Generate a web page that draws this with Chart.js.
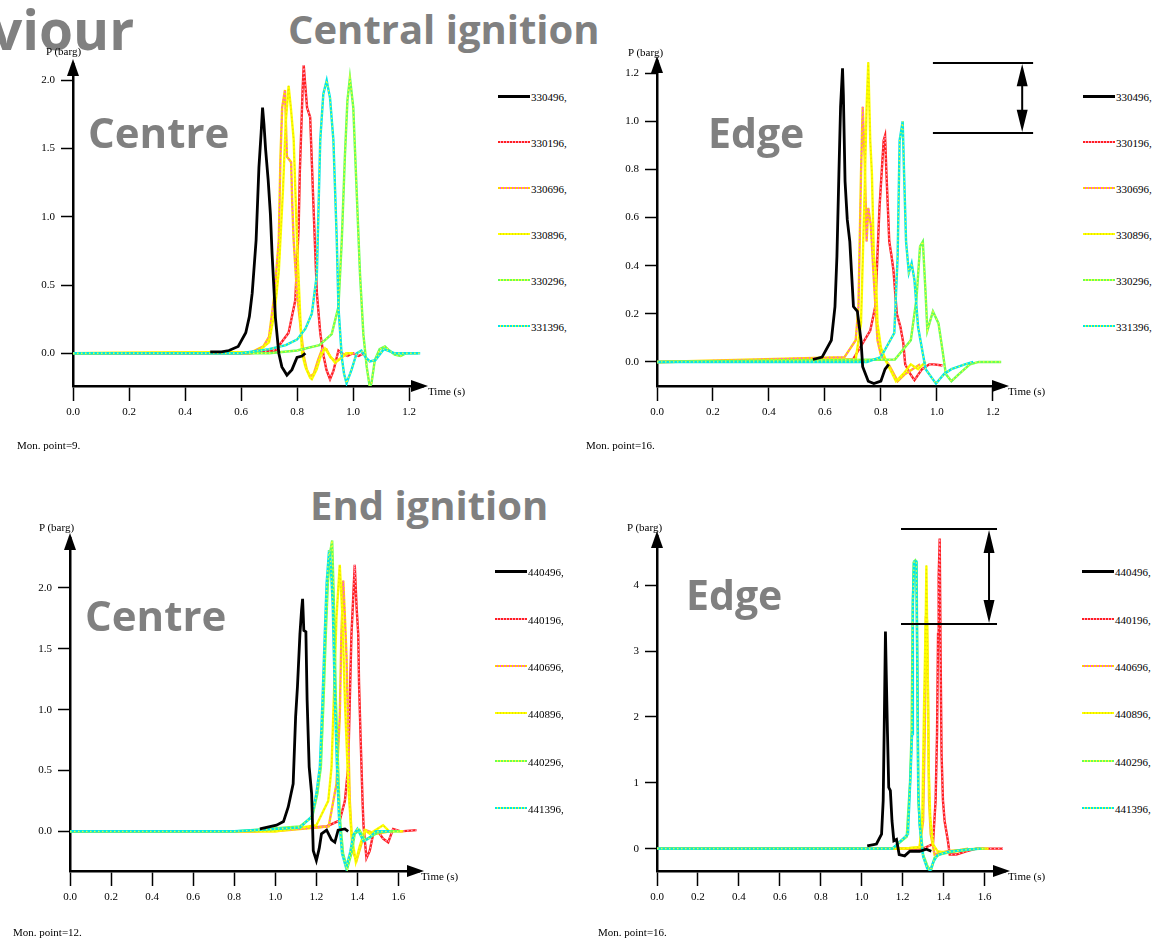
<!DOCTYPE html>
<html>
<head>
<meta charset="utf-8">
<script src="https://cdn.jsdelivr.net/npm/chart.js@4.4.1/dist/chart.umd.min.js"></script>
<style>
  html, body { margin: 0; padding: 0; background: #fff; }
  #page { position: relative; width: 1157px; height: 939px; overflow: hidden; background: #fff; }
  .big { position: absolute; font-family: 'Open Sans', sans-serif; font-weight: 700; color: #808080; line-height: 1; white-space: nowrap; }
  .small { position: absolute; font-family: 'Liberation Serif', serif; font-size: 11px; line-height: 12px; color: #000; white-space: nowrap; }
  .panel { position: absolute; }
  .legend { position: absolute; font-family: 'Liberation Serif', serif; font-size: 11px; color: #000; }
  .legend .row { position: absolute; left: 0; height: 12px; display: flex; align-items: center; white-space: nowrap; }
  .legend .swatch { width: 32px; height: 2px; margin-right: 1px; margin-bottom: 2px; }
</style>
</head>
<body>
<div id="page">
  <div class="big" style="left:-9px; top:1px; font-size:55px;">viour</div>
  <div class="big" style="left:288px; top:9px; font-size:40px;">Central ignition</div>
  <div class="big" style="left:310px; top:485px; font-size:40px;">End ignition</div>

  <canvas id="cc" class="panel" width="480" height="420" style="left:0px; top:40px;"></canvas>
  <canvas id="ce" class="panel" width="480" height="420" style="left:580px; top:40px;"></canvas>
  <canvas id="ec" class="panel" width="480" height="439" style="left:0px; top:500px;"></canvas>
  <canvas id="ee" class="panel" width="480" height="439" style="left:580px; top:500px;"></canvas>

  <div class="big" style="left:88px; top:111px; font-size:42px;">Centre</div>
  <div class="big" style="left:708px; top:112px; font-size:41px;">Edge</div>
  <div class="big" style="left:85px; top:594px; font-size:42px;">Centre</div>
  <div class="big" style="left:686px; top:574px; font-size:41px;">Edge</div>

  <div class="small" style="left:46px; top:45px;">P (barg)</div>
  <div class="small" style="left:628px; top:46px;">P (barg)</div>
  <div class="small" style="left:39px; top:521px;">P (barg)</div>
  <div class="small" style="left:627px; top:521px;">P (barg)</div>

  <div class="small" style="left:428px; top:385px;">Time (s)</div>
  <div class="small" style="left:1008px; top:385px;">Time (s)</div>
  <div class="small" style="left:421px; top:870px;">Time (s)</div>
  <div class="small" style="left:1008px; top:870px;">Time (s)</div>

  <div class="small" style="left:17px; top:439px;">Mon. point=9.</div>
  <div class="small" style="left:586px; top:439px;">Mon. point=16.</div>
  <div class="small" style="left:13px; top:926px;">Mon. point=12.</div>
  <div class="small" style="left:598px; top:926px;">Mon. point=16.</div>
</div>

<script>
// series names (legend shows them with a trailing comma)
const centralNames = ['330496', '330196', '330696', '330896', '330296', '331396'];
const endNames = ['440496', '440196', '440696', '440896', '440296', '441396'];

// tick values
const centralXTicks = [0, 0.2, 0.4, 0.6, 0.8, 1.0, 1.2];
const endXTicks = [0, 0.2, 0.4, 0.6, 0.8, 1.0, 1.2, 1.4, 1.6];
const ccYTicks = [0, 0.5, 1.0, 1.5, 2.0];
const ceYTicks = [0, 0.2, 0.4, 0.6, 0.8, 1.0, 1.2];
const ecYTicks = [0, 0.5, 1.0, 1.5, 2.0];
const eeYTicks = [0, 1, 2, 3, 4];

// Central ignition, centre (mon. point 9) : [time s, pressure barg]
const cc_496 = [[0.49,0.01],[0.53,0.01],[0.557,0.02],[0.59,0.05],[0.617,0.15],[0.63,0.27],[0.64,0.44],[0.654,0.83],[0.664,1.36],[0.672,1.62],[0.677,1.80],[0.682,1.68],[0.688,1.49],[0.697,1.27],[0.705,1.02],[0.711,0.73],[0.723,0.26],[0.735,0.0],[0.746,-0.10],[0.764,-0.16],[0.782,-0.12],[0.80,-0.03],[0.818,-0.02],[0.83,0.0]];
const cc_196 = [[0,0],[0.63,0.0],[0.723,0.02],[0.77,0.15],[0.794,0.39],[0.806,0.93],[0.81,1.32],[0.82,1.93],[0.824,2.11],[0.83,1.95],[0.836,1.80],[0.847,1.73],[0.853,1.40],[0.859,1.07],[0.865,0.75],[0.871,0.44],[0.883,0.15],[0.895,-0.02],[0.905,-0.12],[0.918,-0.19],[0.93,-0.13],[0.948,0.02],[0.96,0.0],[0.98,-0.02],[1.0,0.0],[1.02,-0.02],[1.04,0.0]];
const cc_696 = [[0,0],[0.64,0.01],[0.68,0.05],[0.70,0.12],[0.72,0.44],[0.735,0.83],[0.741,1.44],[0.747,1.80],[0.757,1.93],[0.764,1.44],[0.772,1.42],[0.779,1.40],[0.783,1.10],[0.788,0.83],[0.80,0.44],[0.815,0.15],[0.825,-0.03],[0.835,-0.12],[0.847,-0.17],[0.86,-0.15],[0.875,-0.05],[0.888,0.02],[0.905,0.03],[0.92,-0.03],[0.94,-0.06],[0.96,-0.03],[0.98,0.0]];
const cc_896 = [[0,0],[0.66,0.01],[0.70,0.08],[0.72,0.30],[0.735,0.60],[0.75,1.20],[0.76,1.70],[0.77,1.96],[0.778,1.80],[0.788,1.57],[0.80,0.83],[0.81,0.34],[0.818,0.0],[0.83,-0.10],[0.847,-0.18],[0.853,-0.19],[0.87,-0.12],[0.885,-0.02],[0.90,0.035],[0.918,-0.02],[0.936,-0.07],[0.955,-0.04],[0.975,0.0],[1.0,0.0]];
const cc_296 = [[0,0],[0.70,0.0],[0.80,0.02],[0.88,0.06],[0.924,0.14],[0.948,0.34],[0.96,0.83],[0.971,1.44],[0.98,1.85],[0.989,2.02],[1.001,1.80],[1.013,1.19],[1.025,0.58],[1.037,0.14],[1.049,-0.10],[1.06,-0.25],[1.066,-0.22],[1.078,-0.05],[1.095,0.03],[1.114,0.05],[1.13,0.02],[1.149,-0.01],[1.17,-0.02],[1.19,0.0],[1.232,0.0]];
const cc_1396 = [[0,0],[0.60,0.0],[0.70,0.03],[0.76,0.06],[0.80,0.10],[0.83,0.18],[0.853,0.29],[0.871,0.58],[0.877,1.07],[0.883,1.56],[0.894,1.90],[0.906,2.00],[0.918,1.87],[0.93,1.56],[0.942,0.83],[0.948,0.34],[0.96,-0.03],[0.968,-0.15],[0.977,-0.22],[0.995,-0.12],[1.013,0.0],[1.03,0.02],[1.045,-0.03],[1.06,-0.06],[1.08,-0.05],[1.11,0.03],[1.15,0.0],[1.24,0.0]];

// Central ignition, edge (mon. point 16)
const ce_496 = [[0.557,0.01],[0.59,0.02],[0.623,0.09],[0.636,0.23],[0.643,0.44],[0.65,0.78],[0.656,1.06],[0.663,1.22],[0.666,1.11],[0.672,0.75],[0.68,0.59],[0.689,0.50],[0.702,0.23],[0.716,0.21],[0.729,0.09],[0.735,-0.02],[0.755,-0.08],[0.775,-0.09],[0.80,-0.08],[0.815,-0.03],[0.828,-0.01]];
const ce_196 = [[0,0],[0.70,0.01],[0.762,0.13],[0.78,0.23],[0.795,0.64],[0.81,0.92],[0.815,0.94],[0.82,0.78],[0.825,0.64],[0.83,0.50],[0.838,0.44],[0.845,0.38],[0.857,0.20],[0.87,0.145],[0.88,0.08],[0.887,-0.01],[0.905,-0.05],[0.92,-0.076],[0.947,-0.03],[0.973,-0.01],[0.99,-0.01],[1.02,-0.015]];
const ce_696 = [[0,0],[0.67,0.02],[0.71,0.09],[0.72,0.23],[0.729,0.78],[0.735,1.06],[0.742,0.85],[0.749,0.50],[0.755,0.64],[0.764,0.57],[0.775,0.34],[0.788,0.09],[0.80,0.03],[0.828,-0.01],[0.86,-0.08],[0.887,-0.05],[0.913,-0.03],[0.94,-0.01]];
const ce_896 = [[0,0],[0.71,0.01],[0.729,0.16],[0.742,0.71],[0.749,1.06],[0.755,1.245],[0.762,0.92],[0.768,0.78],[0.775,0.44],[0.782,0.37],[0.788,0.16],[0.80,0.06],[0.82,0.0],[0.854,-0.08],[0.88,-0.05],[0.907,-0.01],[0.933,-0.03],[0.96,0.0]];
const ce_296 = [[0,0],[0.85,0.01],[0.907,0.09],[0.927,0.26],[0.94,0.48],[0.95,0.50],[0.96,0.28],[0.966,0.13],[0.986,0.21],[1.006,0.16],[1.02,0.05],[1.032,-0.05],[1.052,-0.08],[1.08,-0.05],[1.118,-0.01],[1.15,0.0],[1.23,0.0]];
const ce_1396 = [[0,0],[0.75,0.0],[0.80,0.02],[0.848,0.12],[0.86,0.44],[0.867,0.92],[0.878,1.0],[0.883,0.78],[0.89,0.50],[0.90,0.37],[0.91,0.41],[0.92,0.34],[0.933,0.145],[0.96,-0.03],[0.997,-0.09],[1.026,-0.05],[1.052,-0.03],[1.10,-0.01],[1.13,0.0]];

// End ignition, centre (mon. point 12)
const ec_496 = [[0.925,0.02],[1.006,0.05],[1.04,0.08],[1.063,0.2],[1.087,0.39],[1.099,0.94],[1.108,1.19],[1.12,1.62],[1.128,1.82],[1.133,1.91],[1.139,1.65],[1.149,1.64],[1.155,1.08],[1.165,0.53],[1.177,0.31],[1.185,-0.16],[1.20,-0.24],[1.214,-0.14],[1.225,-0.02],[1.25,0.01],[1.274,-0.07],[1.29,-0.09],[1.306,0.01],[1.339,0.02],[1.355,0.0]];
const ec_196 = [[0,0],[0.9,0.0],[1.25,0.04],[1.314,0.09],[1.339,0.25],[1.355,0.53],[1.363,1.08],[1.371,1.62],[1.379,1.90],[1.387,2.19],[1.396,1.84],[1.404,1.62],[1.408,1.21],[1.415,0.80],[1.425,0.25],[1.43,0.04],[1.444,-0.22],[1.46,-0.16],[1.477,-0.02],[1.50,0.0],[1.525,-0.06],[1.55,-0.09],[1.574,0.02],[1.61,0.0],[1.688,0.01]];
const ec_696 = [[0,0],[1.0,0.0],[1.26,0.04],[1.298,0.39],[1.314,0.94],[1.322,1.62],[1.331,2.06],[1.339,1.76],[1.347,1.43],[1.355,0.80],[1.363,0.25],[1.376,-0.16],[1.396,-0.24],[1.42,-0.10],[1.44,0.01],[1.49,-0.02],[1.56,0.0]];
const ec_896 = [[0,0],[1.0,0.0],[1.20,0.05],[1.258,0.25],[1.274,0.53],[1.285,1.08],[1.298,1.76],[1.314,2.19],[1.327,1.76],[1.339,1.08],[1.355,0.39],[1.371,-0.02],[1.392,-0.25],[1.41,-0.13],[1.436,0.01],[1.46,-0.02],[1.525,0.05],[1.555,0.0],[1.623,0.0]];
const ec_296 = [[0,0],[0.8,0.0],[1.12,0.04],[1.18,0.12],[1.205,0.31],[1.222,0.53],[1.235,1.08],[1.246,1.62],[1.256,2.04],[1.268,2.30],[1.277,2.39],[1.285,1.90],[1.295,1.08],[1.306,0.53],[1.314,0.12],[1.33,-0.18],[1.35,-0.31],[1.371,-0.18],[1.387,-0.02],[1.41,0.01],[1.436,-0.07],[1.46,-0.05],[1.50,-0.01],[1.54,0.0],[1.606,0.0]];
const ec_1396 = [[0,0],[0.8,0.0],[1.12,0.03],[1.177,0.12],[1.20,0.31],[1.217,0.53],[1.23,1.08],[1.241,1.62],[1.25,2.04],[1.262,2.31],[1.27,2.20],[1.28,1.85],[1.29,1.10],[1.30,0.55],[1.31,0.12],[1.325,-0.18],[1.345,-0.30],[1.365,-0.17],[1.38,-0.03],[1.40,0.02],[1.43,-0.08],[1.455,-0.06],[1.49,0.0],[1.56,0.0]];

// End ignition, edge (mon. point 16)
const ee_496 = [[1.027,0.04],[1.072,0.07],[1.097,0.22],[1.105,0.73],[1.11,1.84],[1.116,3.30],[1.12,2.65],[1.126,1.74],[1.132,0.93],[1.14,0.88],[1.148,0.42],[1.157,0.12],[1.17,0.14],[1.183,-0.09],[1.21,-0.11],[1.235,-0.04],[1.283,-0.04],[1.316,-0.01],[1.34,-0.04]];
const ee_196 = [[0,0],[1.2,0.0],[1.30,0.0],[1.348,0.07],[1.361,0.73],[1.368,1.74],[1.373,3.26],[1.376,4.13],[1.381,4.71],[1.386,2.76],[1.39,1.44],[1.397,0.73],[1.405,0.42],[1.421,0.12],[1.43,-0.09],[1.462,-0.09],[1.51,-0.04],[1.56,0.0],[1.69,0.0]];
const ee_696 = [[0,0],[1.2,0.0],[1.283,0.02],[1.30,0.42],[1.308,1.74],[1.313,3.49],[1.319,3.47],[1.324,2.35],[1.329,0.73],[1.337,0.22],[1.356,-0.09],[1.38,-0.06],[1.42,-0.04],[1.48,-0.02],[1.52,0.0]];
const ee_896 = [[0,0],[1.2,0.0],[1.283,0.02],[1.296,0.47],[1.305,2.25],[1.313,3.52],[1.316,4.30],[1.321,3.01],[1.327,1.23],[1.335,0.47],[1.348,0.07],[1.37,-0.04],[1.413,-0.06],[1.494,-0.03],[1.56,0.0],[1.62,0.0]];
const ee_296 = [[0,0],[1.15,0.0],[1.22,0.18],[1.236,1.0],[1.244,1.80],[1.249,3.60],[1.254,4.35],[1.262,4.38],[1.268,4.35],[1.272,2.76],[1.277,0.73],[1.283,0.42],[1.30,-0.09],[1.324,-0.29],[1.34,-0.31],[1.356,-0.14],[1.38,-0.09],[1.446,-0.04],[1.527,-0.01],[1.60,0.0]];
const ee_1396 = [[0,0],[1.15,0.0],[1.226,0.22],[1.24,1.23],[1.246,1.74],[1.25,3.77],[1.256,4.36],[1.267,4.36],[1.272,2.50],[1.276,0.90],[1.283,0.35],[1.30,-0.12],[1.32,-0.30],[1.335,-0.33],[1.35,-0.20],[1.37,-0.10],[1.42,-0.05],[1.50,-0.02],[1.58,0.0]];

// line look for the six series (same order as the names)
const lineStyles = [
  { color: '#000000', dot: null, width: 2.8, order: 0 },
  { color: '#ff2020', dot: '#ffa0c8', width: 2.4, order: 5 },
  { color: '#ffd400', dot: '#ff40ff', width: 2.4, order: 4 },
  { color: '#ffff00', dot: '#e4e400', width: 2.4, order: 3 },
  { color: '#66ff55', dot: '#ffff30', width: 2.4, order: 2 },
  { color: '#00e6e6', dot: '#f0ff30', width: 2.4, order: 1 }
];

// peak range markers on the edge plots (in data units)
const ceBracket = { t0: 0.986, t1: 1.344, tArrow: 1.305, lo: 0.951, hi: 1.242 };
const eeBracket = { t0: 1.192, t1: 1.661, tArrow: 1.622, lo: 3.413, hi: 4.856 };

// draws the arrow heads of the axes and the optional double arrow
const axisArrows = {
  id: 'axisArrows',
  afterDraw(chart, args, opts) {
    const { ctx, chartArea: a, scales } = chart;
    ctx.save();
    ctx.fillStyle = '#000';
    ctx.beginPath();
    ctx.moveTo(a.left, a.top - 5);
    ctx.lineTo(a.left - 6, a.top + 12);
    ctx.lineTo(a.left + 6, a.top + 12);
    ctx.closePath();
    ctx.fill();
    ctx.beginPath();
    ctx.moveTo(a.right + 5, a.bottom);
    ctx.lineTo(a.right - 12, a.bottom - 6);
    ctx.lineTo(a.right - 12, a.bottom + 6);
    ctx.closePath();
    ctx.fill();

    const b = opts.bracket;
    if (b) {
      const x0 = scales.x.getPixelForValue(b.t0);
      const x1 = scales.x.getPixelForValue(b.t1);
      const xa = scales.x.getPixelForValue(b.tArrow);
      const yHi = scales.y.getPixelForValue(b.hi);
      const yLo = scales.y.getPixelForValue(b.lo);
      ctx.strokeStyle = '#000';
      ctx.lineWidth = 2;
      ctx.beginPath();
      ctx.moveTo(x0, yHi); ctx.lineTo(x1, yHi);
      ctx.moveTo(x0, yLo); ctx.lineTo(x1, yLo);
      ctx.moveTo(xa, yHi + 10); ctx.lineTo(xa, yLo - 10);
      ctx.stroke();
      const head = Math.min(24, (yLo - yHi) / 3);
      ctx.beginPath();
      ctx.moveTo(xa, yHi + 1); ctx.lineTo(xa - 5.5, yHi + head); ctx.lineTo(xa + 5.5, yHi + head);
      ctx.closePath();
      ctx.moveTo(xa, yLo - 1); ctx.lineTo(xa - 5.5, yLo - head); ctx.lineTo(xa + 5.5, yLo - head);
      ctx.closePath();
      ctx.fill();
    }
    ctx.restore();
  }
};

function buildDatasets(series) {
  const out = [];
  series.forEach((data, i) => {
    const st = lineStyles[i];
    out.push({
      data: data,
      borderColor: st.color,
      borderWidth: st.width,
      pointRadius: 0,
      tension: 0,
      fill: false,
      order: st.order + 0.5
    });
    if (st.dot) {
      out.push({
        data: data,
        borderColor: st.dot,
        borderWidth: 1.3,
        borderDash: [1.5, 2.5],
        pointRadius: 0,
        tension: 0,
        fill: false,
        order: st.order
      });
    }
  });
  return out;
}

function scaleOpts(min, max, tickVals, decimals, tickLen, pad, isX) {
  return {
    type: 'linear',
    min: min,
    max: max,
    afterBuildTicks: (axis) => { axis.ticks = tickVals.map(v => ({ value: v })); },
    afterFit: (axis) => { if (isX) axis.height = 40; else axis.width = 40; },
    border: { display: true, color: '#000', width: 2.5 },
    grid: { display: true, drawOnChartArea: false, drawTicks: true, tickLength: tickLen, tickWidth: 1.5, tickColor: '#000' },
    ticks: {
      autoSkip: false,
      maxRotation: 0,
      padding: pad,
      color: '#000',
      font: { family: 'Liberation Serif', size: 11 },
      callback: (v) => Number(v).toFixed(decimals)
    }
  };
}

function makeChart(id, series, cfg) {
  new Chart(document.getElementById(id), {
    type: 'line',
    data: { datasets: buildDatasets(series) },
    options: {
      responsive: false,
      animation: false,
      events: [],
      layout: { padding: cfg.pad },
      plugins: {
        legend: { display: false },
        tooltip: { enabled: false },
        axisArrows: { bracket: cfg.bracket || null }
      },
      scales: {
        x: scaleOpts(0, cfg.xMax, cfg.xTicks, 1, 15, 5, true),
        y: scaleOpts(cfg.yMin, cfg.yMax, cfg.yTicks, cfg.yDec, 12, 6, false)
      }
    },
    plugins: [axisArrows]
  });
}

function makeLegend(left, rows, names) {
  const box = document.createElement('div');
  box.className = 'legend';
  box.style.left = left + 'px';
  box.style.top = '0px';
  names.forEach((name, i) => {
    const st = lineStyles[i];
    const row = document.createElement('div');
    row.className = 'row';
    row.style.top = (rows[i] - 6) + 'px';
    const sw = document.createElement('div');
    sw.className = 'swatch';
    if (st.dot) {
      sw.style.background = 'repeating-linear-gradient(90deg, ' + st.color + ' 0 2px, ' + st.dot + ' 2px 3px)';
    } else {
      sw.style.background = st.color;
      sw.style.height = '3px';
    }
    const tx = document.createElement('span');
    tx.textContent = name + ',';
    row.appendChild(sw);
    row.appendChild(tx);
    box.appendChild(row);
  });
  document.getElementById('page').appendChild(box);
}

makeChart('cc', [cc_496, cc_196, cc_696, cc_896, cc_296, cc_1396], {
  pad: { left: 33, right: 57, top: 24, bottom: 34 },
  xMax: 1.25, yMin: -0.24, yMax: 2.12, xTicks: centralXTicks, yTicks: ccYTicks, yDec: 1
});
makeChart('ce', [ce_496, ce_196, ce_696, ce_896, ce_296, ce_1396], {
  pad: { left: 37, right: 56, top: 21, bottom: 34 },
  xMax: 1.24, yMin: -0.10, yMax: 1.25, xTicks: centralXTicks, yTicks: ceYTicks, yDec: 1,
  bracket: ceBracket
});
makeChart('ec', [ec_496, ec_196, ec_696, ec_896, ec_296, ec_1396], {
  pad: { left: 30, right: 61, top: 38, bottom: 28 },
  xMax: 1.70, yMin: -0.326, yMax: 2.41, xTicks: endXTicks, yTicks: ecYTicks, yDec: 1
});
makeChart('ee', [ee_496, ee_196, ee_696, ee_896, ee_296, ee_1396], {
  pad: { left: 37, right: 55, top: 36, bottom: 28 },
  xMax: 1.70, yMin: -0.34, yMax: 4.75, xTicks: endXTicks, yTicks: eeYTicks, yDec: 0,
  bracket: eeBracket
});

const topRows = [97, 143, 189, 235, 281, 327];
const bottomRows = [572, 620, 667, 714, 762, 809];
makeLegend(498, topRows, centralNames);
makeLegend(1083, topRows, centralNames);
makeLegend(495, bottomRows, endNames);
makeLegend(1082, bottomRows, endNames);
</script>
</body>
</html>
